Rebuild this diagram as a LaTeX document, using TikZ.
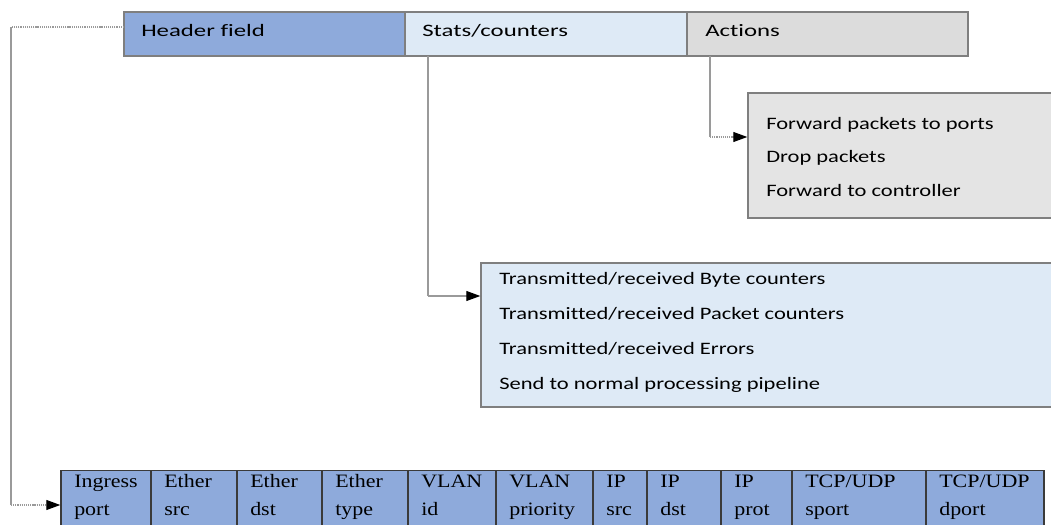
\documentclass[tikz,border=0pt]{standalone}
\usepackage{fontspec}
\newfontfamily\barfont[FakeStretch=1.42,Ligatures=NoCommon]{Carlito}
\newfontfamily\listfont[FakeStretch=1.29,Ligatures=NoCommon]{Carlito}
\newfontfamily\cellfont[FakeStretch=1.16]{Liberation Serif}
\usetikzlibrary{fit,arrows.meta}
\definecolor{hdrblue}{HTML}{8EAADB}
\definecolor{statblue}{HTML}{DEEAF6}
\definecolor{actgray}{HTML}{DCDCDC}
\definecolor{actbox}{HTML}{E4E4E4}
\definecolor{edgegray}{HTML}{7F7F7F}
\definecolor{cellline}{HTML}{3A3A3A}
\definecolor{wiregray}{HTML}{9A9A9A}
\tikzset{
  panel/.style={draw=edgegray, line width=1.1pt, inner sep=0pt},
  cell/.style={draw=cellline, line width=1.1pt, fill=hdrblue, inner sep=0pt},
  bartext/.style={anchor=base west, inner sep=0pt, font=\barfont\fontsize{13.1}{15}\selectfont},
  listtext/.style={anchor=base west, inner sep=0pt, font=\listfont\fontsize{13.1}{15}\selectfont},
  celltext/.style={anchor=base west, inner sep=0pt, font=\cellfont\fontsize{14.2}{17}\selectfont},
  wire/.style={draw=wiregray, line width=0.8pt},
  dotwire/.style={wire, dash pattern=on 0.9pt off 0.7pt},
  tip/.style={-{Triangle[length=10.5pt,width=7.5pt,color=black]}}
}
\begin{document}
\begin{tikzpicture}[x=0.75pt,y=-0.75pt]
\useasboundingbox[fill=white] (0,0) rectangle (1051,525);

% flow-entry bar
\node[panel, fill=hdrblue, fit={(124,12) (405,56)}] (hdr) {};
\node[panel, fill=statblue, fit={(405,12) (687,56)}] (stats) {};
\node[panel, fill=actgray, fit={(687,12) (968,56)}] (acts) {};
\node[bartext] (hdrlbl) at (141,36) {Header field};
\node[bartext] (statslbl) at (422,36) {Stats/counters};
\node[bartext] (actslbl) at (705,36) {Actions};

% actions list
\node[panel, fill=actbox, fit={(748,93) (1056,218)}] (actlist) {};
\node[listtext] (a1) at (766,129) {Forward packets to ports};
\node[listtext] (a2) at (766,162.5) {Drop packets};
\node[listtext] (a3) at (766,196) {Forward to controller};

% statistics list
\node[panel, fill=statblue, fit={(481,263) (1056,407)}] (statlist) {};
\node[listtext] (s1) at (499,284.3) {Transmitted/received Byte counters};
\node[listtext] (s2) at (499,319.3) {Transmitted/received Packet counters};
\node[listtext] (s3) at (499,354) {Transmitted/received Errors};
\node[listtext] (s4) at (499,389) {Send to normal processing pipeline};

% header fields table
\foreach \l/\r/\a/\b [count=\i] in {
    61/151/Ingress/port, 151/237/Ether/src, 237/322/Ether/dst,
    322/408/Ether/type, 408/496/VLAN/id, 496/593/VLAN/priority,
    593/647/IP/src, 647/721/IP/dst, 721/792/IP/prot,
    792/926/{TCP/UDP}/sport, 926/1044/{TCP/UDP}/dport} {
  \node[cell, fit={(\l,470.5) (\r,532)}] (f\i) {};
  \node[celltext] (f\i a) at (\l+13,487) {\a};
  \node[celltext] (f\i b) at (\l+13,515) {\b};
}

% connectors
\coordinate (hdrout) at (124,27);
\coordinate (lbend) at (11,27);
\coordinate (lfoot) at (11,505);
\draw[dotwire] (hdrout) -- (lbend);
\draw[wire] (lbend) -- (lfoot);
\draw[dotwire, tip] (lfoot) -- (lfoot -| f1.west);

\coordinate (sdrop) at (428,56);
\coordinate (sfoot) at (428,296);
\draw[wire] (sdrop) -- (sfoot);
\draw[wire, tip] (sfoot) -- (sfoot -| statlist.west);

\coordinate (adrop) at (710,56);
\coordinate (afoot) at (710,137);
\draw[wire] (adrop) -- (afoot);
\draw[dotwire, tip] (afoot) -- (afoot -| actlist.west);
\end{tikzpicture}
\end{document}
